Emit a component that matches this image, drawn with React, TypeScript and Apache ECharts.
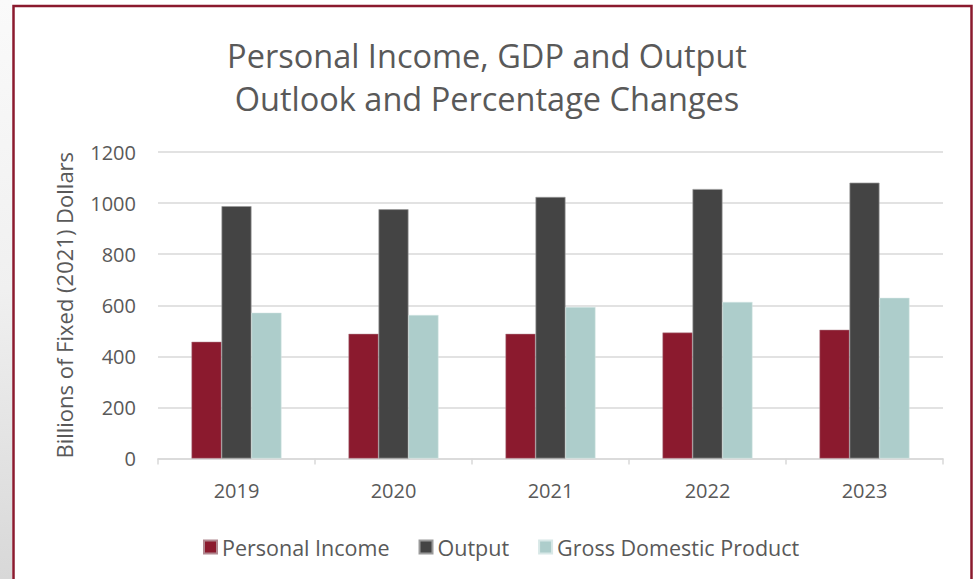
import React, { useEffect, useRef } from "react";
import * as echarts from "echarts";

const categories = ["2019", "2020", "2021", "2022", "2023"];
const personalIncome = [457, 488, 488, 493, 504];
const output = [988, 976, 1024, 1055, 1080];
const gdp = [571, 562, 593, 613, 629];
const titleLines = ["Personal Income, GDP and Output", "Outlook and Percentage Changes"];
const yAxisName = "Billions of Fixed (2021) Dollars";

const FONT = "'Open Sans', Lato, sans-serif";
const TXT = "#595959";

export default function App() {
  const ref = useRef<HTMLDivElement>(null);
  useEffect(() => {
    if (!ref.current) return;
    const chart = echarts.init(ref.current, undefined, { renderer: "svg" });
    chart.setOption({
      animation: false,
      backgroundColor: "#ffffff",
      textStyle: { fontFamily: FONT },
      graphic: [
        {
          type: "rect",
          silent: true,
          z: -10,
          shape: { x: 0, y: 0, width: 12, height: 579 },
          style: {
            fill: new echarts.graphic.LinearGradient(0, 0, 0, 1, [
              { offset: 0, color: "#fafafa" },
              { offset: 0.5, color: "#f0f0f0" },
              { offset: 1, color: "#d8d8d8" },
            ]),
          },
        },
        {
          type: "rect",
          silent: true,
          z: 100,
          shape: { x: 13.5, y: 6, width: 958, height: 600 },
          style: { fill: "none", stroke: "#8B1A2E", lineWidth: 2.5 },
        },
      ],
      title: {
        text: titleLines.join("\n"),
        left: "center",
        top: 29,
        textStyle: {
          fontFamily: FONT,
          fontSize: 32.5,
          fontWeight: "normal",
          color: TXT,
          lineHeight: 43,
        },
      },
      legend: {
        top: 531,
        left: 198,
        itemWidth: 13,
        itemHeight: 13,
        itemGap: 29,
        icon: "rect",
        textStyle: { fontFamily: FONT, fontSize: 21.5, color: TXT },
        data: ["Personal Income", "Output", "Gross Domestic Product"],
      },
      grid: { left: 158, right: 31, top: 152, bottom: 120.5, containLabel: false },
      xAxis: {
        type: "category",
        data: categories,
        axisLine: { lineStyle: { color: "#d9d9d9", width: 1.5 } },
        axisTick: { show: true, alignWithLabel: false, length: 6, lineStyle: { color: "#d9d9d9", width: 1.5 } },
        axisLabel: { fontFamily: FONT, fontSize: 20, color: TXT, margin: 22 },
      },
      yAxis: {
        type: "value",
        min: 0,
        max: 1200,
        interval: 200,
        name: yAxisName,
        nameLocation: "middle",
        nameGap: 83,
        nameTextStyle: { fontFamily: FONT, fontSize: 22, color: TXT },
        axisLine: { show: false },
        axisTick: { show: false },
        axisLabel: {
          fontFamily: FONT,
          fontSize: 20,
          color: TXT,
          margin: 22,
          formatter: (v: number) => String(v),
        },
        splitLine: { lineStyle: { color: "#d9d9d9", width: 1.5 } },
      },
      series: [
        {
          name: "Personal Income",
          type: "bar",
          data: personalIncome,
          barWidth: 30,
          barGap: "0%",
          itemStyle: { color: "#8B1A2E", borderColor: "#b08890", borderWidth: 0.5 },
        },
        {
          name: "Output",
          type: "bar",
          data: output,
          barWidth: 30,
          barGap: "0%",
          itemStyle: { color: "#444444", borderColor: "#9a9a9a", borderWidth: 0.7 },
        },
        {
          name: "Gross Domestic Product",
          type: "bar",
          data: gdp,
          barWidth: 30,
          barGap: "0%",
          itemStyle: { color: "#ADCDCB", borderColor: "#d8e8e7", borderWidth: 0.5 },
        },
      ],
    });
    return () => chart.dispose();
  }, []);
  return (
    <div
      ref={ref}
      style={{ position: "absolute", left: 0, top: 0, width: 974, height: 579 }}
    />
  );
}
